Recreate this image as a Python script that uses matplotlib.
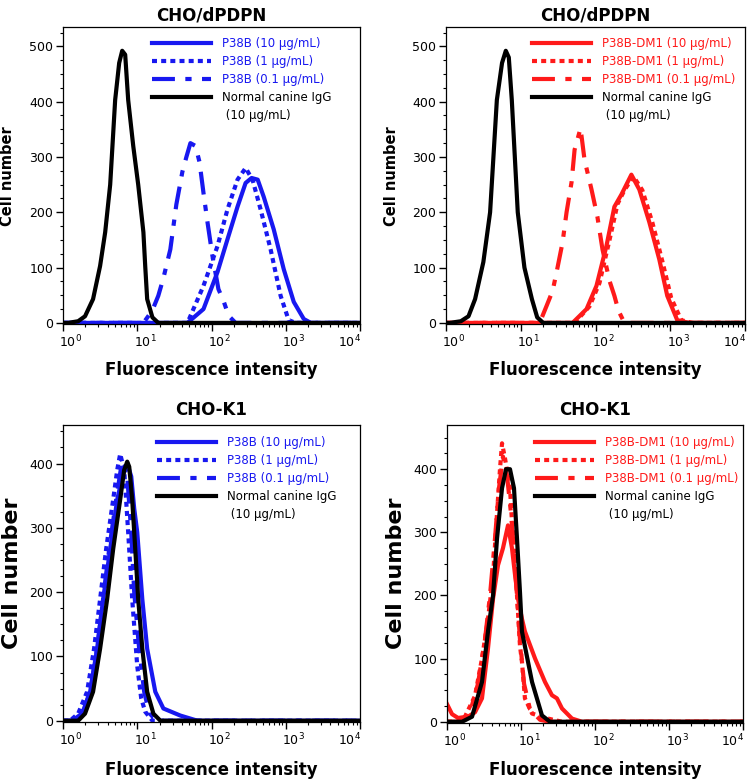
import matplotlib
matplotlib.use("Agg")
import matplotlib.pyplot as plt
import matplotlib.transforms as mtransforms
from matplotlib.lines import Line2D
from matplotlib.ticker import MultipleLocator, LogLocator, NullFormatter

plt.rcParams["font.family"] = ["DejaVu Sans"]

BLUE = "#1818f0"
RED = "#ff1a1a"

# ---------- data (intensity, cell count) ----------
# top-left: CHO/dPDPN, P38B
TL_SOLID_X = [1.0, 47.4, 78.0, 120.5, 164, 224, 288, 347, 419, 505, 689, 940, 1282, 1750, 2178, 10000]
TL_SOLID_Y = [0, 0, 25, 92, 151, 210, 253, 262, 259, 228, 169, 97, 38, 7, 0, 0]
TL_DOT_X = [1.0, 47.4, 78.0, 120.5, 164, 224, 288, 357, 459, 625, 853, 1094, 1361, 10000]
TL_DOT_Y = [0, 0, 67, 139, 205, 259, 280, 259, 205, 133, 49, 5, 0, 0]
TL_DASH_X = [1.0, 12.1, 15.9, 19.2, 22.5, 27.9, 33.6, 40.5, 45.9, 52.0, 60.8, 68.9, 78.0, 88.3,
             103, 124, 145, 170, 211, 10000]
TL_DASH_Y = [0, 0, 22, 49, 81, 133, 214, 273, 300, 325, 320, 291, 235, 182, 121, 61, 40, 13, 0, 0]
TL_IGG_X = [1.0, 1.17, 1.60, 1.98, 2.54, 3.16, 3.70, 4.32, 5.04, 5.71, 6.27, 6.88, 7.55, 8.83,
            10.3, 12.1, 12.8, 13.6, 16.0, 19.2, 10000]
TL_IGG_Y = [0, 0, 3, 12, 43, 103, 164, 250, 403, 470, 492, 485, 403, 320, 250, 164, 103, 43, 10, 0, 0]

# top-right: CHO/dPDPN, P38B-DM1
TR_SOLID_X = [1.0, 49.3, 75.9, 103, 140, 179, 222, 302, 386, 525, 713, 912, 1240, 1791, 10000]
TR_SOLID_Y = [0, 0, 25, 67, 139, 210, 232, 268, 241, 182, 115, 49, 5, 0, 0]
TR_DOT_X = [1.0, 52.5, 83.2, 113, 154, 197, 244, 321, 423, 575, 782, 1030, 1403, 1965, 10000]
TR_DOT_Y = [0, 0, 30, 72, 150, 215, 240, 265, 240, 182, 112, 45, 5, 0, 0]
TR_DASH_X = [1.0, 17.9, 22.2, 26.7, 30.2, 36.3, 41.0, 47.9, 52.5, 63.1, 71.3, 88.5, 106, 124,
             154, 179, 203, 244, 10000]
TR_DASH_Y = [0, 0, 31, 58, 92, 146, 200, 255, 313, 352, 295, 241, 192, 133, 76, 49, 22, 0, 0]
TR_IGG_X = [1.0, 1.12, 1.58, 2.00, 2.45, 3.16, 3.89, 4.79, 5.62, 6.31, 6.92, 7.59, 9.12, 11.2,
            14.1, 16.6, 20.0, 10000]
TR_IGG_Y = [0, 0, 3, 12, 43, 110, 200, 403, 470, 492, 480, 403, 200, 100, 43, 10, 0, 0]

# bottom-left: CHO-K1, P38B
BL_SOLID_X = [1.0, 1.32, 1.81, 2.32, 2.88, 3.47, 4.32, 5.37, 6.47, 7.55, 8.30, 9.10, 10.0, 11.7,
              13.6, 17.5, 22.5, 38.1, 64.7, 10000]
BL_SOLID_Y = [0, 0, 11, 45, 112, 189, 267, 344, 385, 395, 380, 330, 293, 189, 112, 45, 19, 8, 0, 0]
BL_DOT_X = [1.0, 1.24, 1.60, 2.11, 2.62, 3.16, 3.81, 4.74, 5.37, 5.89, 6.67, 7.55, 8.55, 10.0,
            11.3, 12.8, 16.0, 10000]
BL_DOT_Y = [0, 0, 11, 45, 112, 189, 267, 344, 390, 415, 390, 293, 189, 85, 35, 14, 0, 0]
BL_DASH_X = [1.0, 1.41, 1.81, 2.32, 2.88, 3.47, 4.19, 5.20, 6.08, 6.67, 7.33, 8.30, 9.10, 10.6,
             12.4, 14.5, 18.1, 10000]
BL_DASH_Y = [0, 0, 11, 45, 112, 189, 267, 344, 395, 405, 380, 293, 200, 112, 45, 12, 0, 0]
BL_IGG_X = [1.0, 1.60, 1.98, 2.54, 3.16, 3.93, 4.74, 5.89, 6.67, 7.33, 7.80, 8.55, 9.40, 10.3,
            11.7, 13.6, 16.5, 20.5, 10000]
BL_IGG_Y = [0, 0, 11, 45, 112, 189, 267, 344, 390, 403, 395, 344, 267, 189, 112, 45, 11, 0, 0]

# bottom-right: CHO-K1, P38B-DM1
BR_SOLID_X = [1.0, 1.17, 1.41, 1.92, 2.39, 2.97, 3.58, 4.19, 4.89, 5.71, 6.67, 7.55, 8.30, 9.10,
              10.3, 11.3, 15.5, 21.1, 26.2, 30.6, 35.8, 48.9, 66.7, 10000]
BR_SOLID_Y = [28, 12, 6, 8, 15, 37, 116, 195, 248, 275, 311, 275, 233, 195, 163, 143, 100, 63,
              42, 37, 21, 5, 0, 0]
BR_DOT_X = [1.0, 1.41, 1.75, 2.39, 2.97, 3.58, 4.19, 4.74, 5.20, 5.54, 6.08, 7.10, 7.55, 8.30,
            8.83, 9.69, 10.3, 11.3, 14.1, 23.2, 35.8, 10000]
BR_DOT_Y = [0, 0, 8, 41, 100, 163, 230, 330, 400, 441, 417, 370, 317, 275, 200, 120, 95, 37,
            13, 5, 0, 0]
BR_DASH_X = [1.0, 1.50, 2.05, 2.62, 3.26, 3.81, 4.45, 5.04, 5.71, 6.47, 7.33, 8.04, 8.83, 9.69,
             11.0, 13.2, 18.1, 24.6, 10000]
BR_DASH_Y = [0, 0, 15, 60, 130, 200, 290, 370, 420, 390, 330, 270, 200, 130, 60, 20, 3, 0, 0]
BR_IGG_X = [1.0, 1.60, 2.18, 2.97, 3.58, 4.19, 4.74, 5.54, 6.27, 7.10, 8.04, 8.83, 9.69, 10.3,
            14.1, 19.2, 24.6, 10000]
BR_IGG_Y = [0, 0, 8, 63, 143, 200, 290, 370, 400, 400, 370, 290, 205, 143, 63, 10, 0, 0]

P38B_LABELS = ["P38B (10 \u03bcg/mL)", "P38B (1 \u03bcg/mL)", "P38B (0.1 \u03bcg/mL)"]
DM1_LABELS = ["P38B-DM1 (10 \u03bcg/mL)", "P38B-DM1 (1 \u03bcg/mL)", "P38B-DM1 (0.1 \u03bcg/mL)"]
IGG_LABEL = "Normal canine IgG"
IGG_LABEL2 = " (10 \u03bcg/mL)"
TOP_TITLE = "CHO/dPDPN"
BOTTOM_TITLE = "CHO-K1"
X_TICKS = [1, 10, 100, 1000, 10000]

W, H = 750, 784
DOT = (0, (1.2, 1.0))
DASHDOT = (0, (5.5, 2.5, 1.5, 2.5))


def fx(px):
    return px / W


def fy(py):
    return 1 - py / H


def panel(rect, series, color, labels, ylim, yticks, leg_x, leg_y):
    l, t, r, b = rect
    ax = fig.add_axes([fx(l), fy(b), fx(r - l), (b - t) / H])
    styles = ["-", DOT, DASHDOT]
    handles = []
    for (xs, ys), ls, lab in zip(series[:3], styles, labels):
        ln, = ax.plot(xs, ys, color=color, lw=3, ls=ls, label=lab,
                      dash_capstyle="butt", solid_joinstyle="round")
        handles.append(ln)
    ln, = ax.plot(series[3][0], series[3][1], color="black", lw=3, ls="-", label=IGG_LABEL)
    handles.append(ln)
    handles.append(Line2D([], [], color="none"))
    ax.set_xscale("log")
    ax.set_xlim(1, 1e4)
    ax.set_ylim(*ylim)
    ax.set_yticks(yticks)
    ax.set_xticks(X_TICKS)
    ax.yaxis.set_minor_locator(MultipleLocator(25))
    ax.xaxis.set_minor_locator(LogLocator(base=10, subs=range(2, 10), numticks=20))
    ax.xaxis.set_minor_formatter(NullFormatter())
    ax.tick_params(which="major", direction="out", length=5, width=1, labelsize=9, pad=2)
    ax.tick_params(which="minor", direction="out", length=2.5, width=0.8)
    ax.tick_params(top=False, right=False)
    for sp in ax.spines.values():
        sp.set_linewidth(0.9)
    # the source's decade labels sit right of their tick, the last one pulled inside
    labs = ax.get_xticklabels()
    for i, lab in enumerate(labs):
        dx = -0.10 if i == len(labs) - 1 else 0.08
        off = mtransforms.ScaledTranslation(dx, 0, fig.dpi_scale_trans)
        lab.set_transform(lab.get_transform() + off)
    leg = ax.legend(handles, labels + [IGG_LABEL, IGG_LABEL2], loc="upper left",
                    bbox_to_anchor=(leg_x, leg_y), frameon=False, fontsize=8.5,
                    handlelength=5.0, handletextpad=0.9, labelspacing=0.42,
                    borderpad=0, borderaxespad=0)
    for i, txt in enumerate(leg.get_texts()):
        txt.set_color(color if i < 3 else "black")
    return ax


fig = plt.figure(figsize=(W / 100, H / 100), dpi=100)

panel((63, 27, 360, 324),
      [(TL_SOLID_X, TL_SOLID_Y), (TL_DOT_X, TL_DOT_Y), (TL_DASH_X, TL_DASH_Y), (TL_IGG_X, TL_IGG_Y)],
      BLUE, P38B_LABELS, (-2, 535), [0, 100, 200, 300, 400, 500], 0.30, 0.965)
panel((446, 27, 745, 324),
      [(TR_SOLID_X, TR_SOLID_Y), (TR_DOT_X, TR_DOT_Y), (TR_DASH_X, TR_DASH_Y), (TR_IGG_X, TR_IGG_Y)],
      RED, DM1_LABELS, (-2, 535), [0, 100, 200, 300, 400, 500], 0.288, 0.965)
panel((63, 425, 360, 722),
      [(BL_SOLID_X, BL_SOLID_Y), (BL_DOT_X, BL_DOT_Y), (BL_DASH_X, BL_DASH_Y), (BL_IGG_X, BL_IGG_Y)],
      BLUE, P38B_LABELS, (-2, 460), [0, 100, 200, 300, 400], 0.316, 0.962)
panel((447, 425, 743, 723),
      [(BR_SOLID_X, BR_SOLID_Y), (BR_DOT_X, BR_DOT_Y), (BR_DASH_X, BR_DASH_Y), (BR_IGG_X, BR_IGG_Y)],
      RED, DM1_LABELS, (-2, 470), [0, 100, 200, 300, 400], 0.297, 0.962)

# titles, axis labels
for cx, cy, s in [(211, 15, TOP_TITLE), (595, 15, TOP_TITLE),
                  (211, 410, BOTTOM_TITLE), (595, 410, BOTTOM_TITLE)]:
    fig.text(fx(cx), fy(cy), s, ha="center", va="center", fontsize=12, fontweight="bold")
for cx, cy in [(211, 370), (595, 370), (211, 770), (595, 770)]:
    fig.text(fx(cx), fy(cy), "Fluorescence intensity", ha="center", va="center",
             fontsize=12, fontweight="bold")
for cx, cy, fs in [(8, 176, 10.5), (392, 176, 10.5), (12, 573, 16), (396, 573, 16)]:
    fig.text(fx(cx), fy(cy), "Cell number", ha="center", va="center", rotation=90,
             fontsize=fs, fontweight="bold")

fig.savefig("out.png", dpi=100)
